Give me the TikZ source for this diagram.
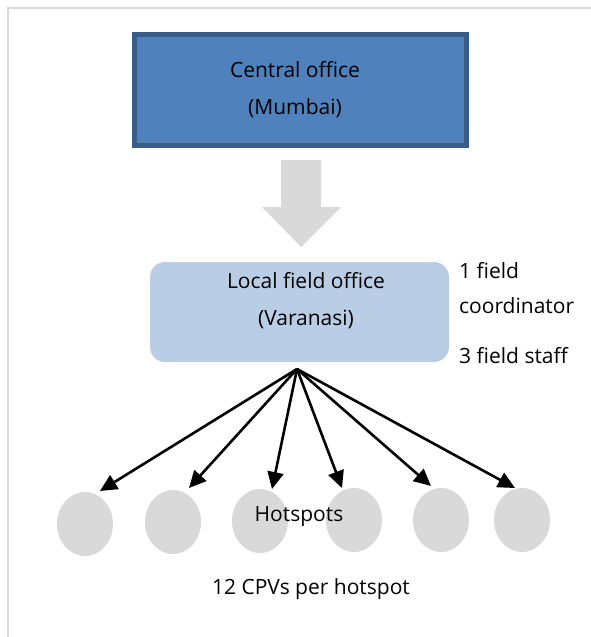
\documentclass[tikz,border=0pt]{standalone}
\usepackage{fontspec}
\setmainfont{Open Sans}
\usetikzlibrary{arrows.meta,shapes.geometric}
\definecolor{cfill}{HTML}{4F81BD}
\definecolor{cborder}{HTML}{385D8A}
\definecolor{lfill}{HTML}{B9CDE5}
\definecolor{lgray}{HTML}{D9D9D9}
\tikzset{
  txt/.style={inner sep=0pt, font=\fontsize{21}{37}\selectfont, align=center, text=black},
  rtxt/.style={inner sep=0pt, font=\fontsize{21}{35}\selectfont, align=left, anchor=west, text=black},
  centralbox/.style={draw=cborder, line width=5pt, fill=cfill, minimum width=332pt, minimum height=111pt, inner sep=0pt},
  localbox/.style={fill=lfill, rounded corners=15pt, minimum width=299pt, minimum height=100pt, inner sep=0pt},
  spot/.style={ellipse, fill=lgray, minimum width=56pt, minimum height=64pt, inner sep=0pt},
  fan/.style={line width=2.6pt, -{Triangle[length=17pt,width=16pt]}}
}
\begin{document}
\begin{tikzpicture}[x=1pt,y=-1pt]
\useasboundingbox (0,0) rectangle (591,637);
% frame
\draw[lgray, line width=2pt] (8,637) -- (8,7.5) -- (591,7.5);
% central office
\node[centralbox] (central) at (300.5,90) {};
\node[txt] (ctext) at (295,89.5) {Central office\\(Mumbai)};
% gray block arrow
\fill[lgray] (281,160) -- (321,160) -- (321,207) -- (341,207) -- (301,247) -- (262,207) -- (281,207) -- cycle;
% local office
\node[localbox] (local) at (299.5,312) {};
\node[txt] (ltext) at (306,300.5) {Local field office\\(Varanasi)};
\node[rtxt] (r1) at (459,270.5) {1 field};
\node[rtxt] (r2) at (459,305.5) {coordinator};
\node[rtxt] (r3) at (459,355.5) {3 field staff};
% hotspots
\node[spot] (h1) at (85,524) {};
\node[spot] (h2) at (173,522) {};
\node[spot] (h3) at (260,521) {};
\node[spot] (h4) at (354,520) {};
\node[spot] (h5) at (441,520) {};
\node[spot] (h6) at (522,520) {};
\node[txt] (hot) at (299,516.5) {Hotspots};
\node[txt] (cpv) at (311,589.5) {12 CPVs per hotspot};
% fan arrows
\coordinate (hub) at (297,369);
\coordinate (t1) at (100,491);
\coordinate (t2) at (189,488);
\coordinate (t3) at (272,489);
\coordinate (t4) at (342,488);
\coordinate (t5) at (431,486);
\coordinate (t6) at (515,488);
\foreach \i in {1,...,6} \draw[fan] (hub) -- (t\i);
\end{tikzpicture}
\end{document}
